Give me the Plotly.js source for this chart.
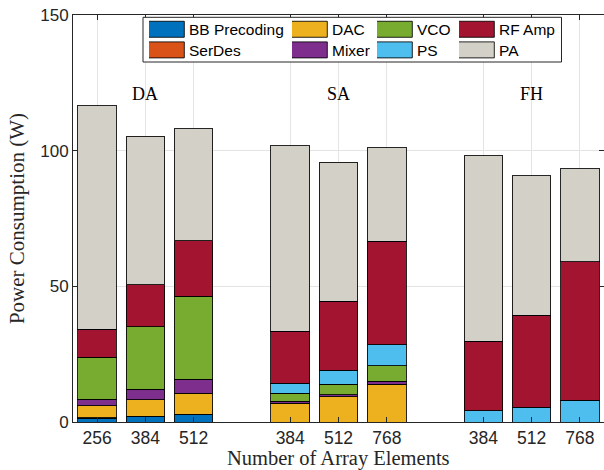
<!DOCTYPE html>
<html>
<head>
<meta charset="utf-8">
<script src="https://cdn.plot.ly/plotly-3.0.1.min.js"></script>
<style>html,body{margin:0;padding:0;background:#fff;}#chart{width:604px;height:470px;}</style>
</head>
<body>
<div id="chart"></div>
<script>
// Configuration groups and array sizes
const groups = ['DA', 'SA', 'FH'];
const elementLabels = ['256', '384', '512', '384', '512', '768', '384', '512', '768'];
const xTitle = 'Number of Array Elements';
const yTitle = 'Power Consumption (W)';

// Power consumption (W) per component, one value per configuration
const bbPrecoding = [1.3, 1.9, 2.6, 0, 0, 0, 0, 0, 0];
const serDes      = [0.3, 0.3, 0.3, 0, 0, 0, 0, 0, 0];
const dac         = [4.4, 6.0, 7.7, 7.0, 9.3, 13.9, 0, 0, 0];
const mixer       = [2.4, 3.8, 5.1, 0.7, 0.8, 1.2, 0, 0, 0];
const vco         = [15.4, 23.1, 30.6, 2.9, 3.8, 5.7, 0, 0, 0];
const ps          = [0, 0, 0, 3.7, 5.2, 7.6, 4.2, 5.4, 8.0];
const rfAmp       = [10.4, 15.4, 20.5, 19.1, 25.4, 38.3, 25.5, 34.0, 51.1];
const pa          = [82.4, 54.8, 41.2, 68.4, 51.3, 34.4, 68.5, 51.4, 34.3];

const seriesNames = ['BB Precoding', 'SerDes', 'DAC', 'Mixer', 'VCO', 'PS', 'RF Amp', 'PA'];
const seriesData = [bbPrecoding, serDes, dac, mixer, vco, ps, rfAmp, pa];
const seriesColors = ['#0072BD', '#D95319', '#EDB120', '#7E2F8E', '#77AC30', '#4DBEEE', '#A2142F', '#D3D1C7'];

// slot positions: 3 bars per group with an empty slot between groups
const perGroup = 3;
const xPos = [];
groups.forEach((g, gi) => { for (let i = 0; i < perGroup; i++) xPos.push(gi * (perGroup + 1) + i + 1); });
const groupCenters = groups.map((g, gi) => gi * (perGroup + 1) + 2);

const legendIds = seriesNames.map((n, k) => k === 0 ? 'legend' : 'legend' + (k + 1));

const traces = seriesNames.map((name, k) => ({
  type: 'bar',
  name: name,
  x: xPos,
  y: seriesData[k],
  width: 0.8,
  legend: legendIds[k],
  marker: { color: seriesColors[k], line: { color: 'rgba(0,0,0,0.85)', width: 1 } },
  hoverinfo: 'name+y'
}));

const serif = 'Liberation Serif, Times New Roman, serif';
const sans = 'Liberation Sans, Arial, Helvetica, sans-serif';
const axisCol = '#262626';

// legend layout (column-major, 4 columns x 2 rows) in pixels -> paper
const L = 73, W = 531, B = 422, H = 407;
const colTextX = [189, 332, 417, 499];
const rowCenterY = [29.7, 50.3];

const layout = {
  width: 604, height: 470,
  margin: { l: 73, r: 0, t: 15, b: 48, autoexpand: false },
  paper_bgcolor: '#fff', plot_bgcolor: '#fff',
  barmode: 'stack',
  xaxis: {
    range: [0.5, 11.5],
    tickmode: 'array', tickvals: xPos, ticktext: elementLabels,
    ticks: 'inside', ticklen: 5, tickcolor: axisCol, tickwidth: 1,
    showline: true, linecolor: axisCol, linewidth: 1, mirror: 'ticks',
    showgrid: true, gridcolor: '#e4e4e4', gridwidth: 1, zeroline: false,
    tickfont: { family: sans, size: 17.5, color: axisCol },
    ticklabelstandoff: 0,
    automargin: false
  },
  yaxis: {
    range: [0, 150],
    tickmode: 'array', tickvals: [0, 50, 100, 150],
    ticks: 'inside', ticklen: 5, tickcolor: axisCol, tickwidth: 1,
    showline: true, linecolor: axisCol, linewidth: 1, mirror: 'ticks',
    showgrid: true, gridcolor: '#e4e4e4', gridwidth: 1, zeroline: false,
    tickfont: { family: sans, size: 17, color: axisCol },
    title: { text: yTitle, font: { family: serif, size: 21, color: axisCol }, standoff: 9 },
    automargin: false
  },
  showlegend: true,
  shapes: [{
    type: 'rect', xref: 'paper', yref: 'paper', layer: 'above',
    x0: (143 - L) / W, x1: (561.5 - L) / W,
    y0: (B - 62) / H, y1: (B - 17.3) / H,
    fillcolor: '#ffffff', line: { color: axisCol, width: 1 }
  }],
  annotations: groups.map((g, gi) => ({
    x: groupCenters[gi], y: 121, xref: 'x', yref: 'y', text: g, showarrow: false,
    font: { family: serif, size: 18, color: '#000' }
  })).concat([{
    x: 0.5, y: (B - 459) / H, xref: 'paper', yref: 'paper', xanchor: 'center', yanchor: 'middle',
    text: xTitle, showarrow: false, font: { family: serif, size: 20.5, color: axisCol }
  }])
};

legendIds.forEach((id, k) => {
  const col = Math.floor(k / 2), row = k % 2;
  layout[id] = {
    x: (colTextX[col] - 40 - L) / W, y: (B - rowCenterY[row]) / H,
    xanchor: 'left', yanchor: 'middle', orientation: 'v',
    bgcolor: 'rgba(0,0,0,0)', borderwidth: 0, itemwidth: 30,
    font: { family: sans, size: 15.5, color: '#000' }
  };
});

Plotly.newPlot('chart', traces, layout, { displayModeBar: false, staticPlot: true }).then(gd => {
  gd.querySelectorAll('.infolayer .legendpoints path').forEach(p => {
    p.setAttribute('d', 'M-22.7,-8H15.3V8H-22.7Z');
  });
});
</script>
</body>
</html>
